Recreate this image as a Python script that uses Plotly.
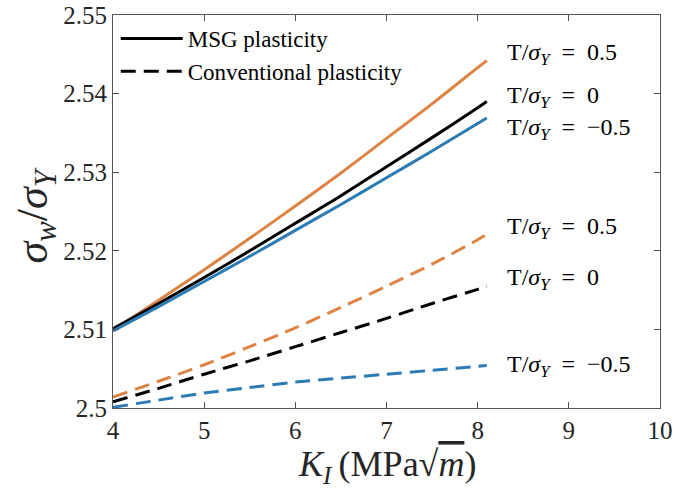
import plotly.graph_objects as go

# Data
K = [4.0, 4.5, 5.0, 5.5, 6.0, 6.5, 7.0, 7.5, 8.0, 8.1]

msg_pos = [2.5099, 2.5137, 2.5176, 2.5216, 2.5257, 2.5299, 2.5343, 2.5387, 2.5433, 2.5442]
msg_zero = [2.5101, 2.5133, 2.5166, 2.5200, 2.5235, 2.5270, 2.5307, 2.5344, 2.5382, 2.5390]
msg_neg = [2.5098, 2.5129, 2.5161, 2.5193, 2.5226, 2.5259, 2.5293, 2.5327, 2.5362, 2.5369]

conv_pos = [2.5014, 2.5034, 2.5055, 2.5078, 2.5102, 2.5128, 2.5155, 2.5183, 2.5214, 2.5221]
conv_zero = [2.5008, 2.5025, 2.5043, 2.5060, 2.5078, 2.5096, 2.5114, 2.5133, 2.5151, 2.5155]
conv_neg = [2.5001, 2.5010, 2.5019, 2.5026, 2.5033, 2.5038, 2.5043, 2.5048, 2.5053, 2.5054]

ratio_labels = ["0.5", "0", "\u22120.5", "0.5", "0", "\u22120.5"]

x_ticks = [4, 5, 6, 7, 8, 9, 10]
y_ticks = [2.5, 2.51, 2.52, 2.53, 2.54, 2.55]
y_ticklabels = ["2.5", "2.51", "2.52", "2.53", "2.54", "2.55"]

ORANGE = "#DD8445"
BLUE = "#2B7BB5"
BLACK = "#000000"
FONT = "Liberation Serif"
DASH = "15px,8px"

fig = go.Figure()

series = [
    (msg_pos, ORANGE, "solid"),
    (msg_zero, BLACK, "solid"),
    (msg_neg, BLUE, "solid"),
    (conv_pos, ORANGE, DASH),
    (conv_zero, BLACK, DASH),
    (conv_neg, BLUE, DASH),
]
for ys, col, dash in series:
    fig.add_trace(go.Scatter(x=K, y=ys, mode="lines", showlegend=False,
                             line=dict(color=col, width=3, dash=dash,
                                       shape="spline", smoothing=0.8)))

# legend entries
fig.add_trace(go.Scatter(x=[None], y=[None], mode="lines", name="MSG plasticity",
                         line=dict(color=BLACK, width=3)))
fig.add_trace(go.Scatter(x=[None], y=[None], mode="lines", name="Conventional plasticity",
                         line=dict(color=BLACK, width=3, dash=DASH)))

# end labels (pixel nudges so labels don't collide)
label_yshift = [7, 4, -11, 6, 7, 0]
for (ys, col, dash), lab, ysh in zip(series, ratio_labels, label_yshift):
    fig.add_annotation(x=K[-1], y=ys[-1], xref="x", yref="y",
                       text="T/<i>\u03c3</i><sub><i>Y</i></sub>\u2002=\u2002" + lab,
                       showarrow=False, xanchor="left", yanchor="middle",
                       xshift=18, yshift=ysh,
                       font=dict(family=FONT, size=24, color="#000000"))

axis_common = dict(
    showgrid=False, zeroline=False, showline=True, mirror="ticks",
    linecolor="#555555", linewidth=1.2, ticks="inside", ticklen=6,
    tickcolor="#555555", tickwidth=1, automargin=False,
    ticklabeloverflow="allow",
    tickfont=dict(family=FONT, size=25, color="#262626"),
)

fig.update_xaxes(range=[4, 10], tickvals=x_ticks, **axis_common)
fig.update_yaxes(range=[2.5, 2.55], tickvals=y_ticks, ticktext=y_ticklabels, **axis_common)

# axis titles
fig.add_annotation(
    x=0.5, y=0, xref="paper", yref="paper", yanchor="top", yshift=-34,
    text="<i>K</i><sub><i>I</i></sub>\u2009(MPa\u221a<span style='text-decoration:overline'><i>m</i></span>)",
    showarrow=False, font=dict(family=FONT, size=36, color="#262626"))
fig.add_annotation(
    x=0, y=0.49, xref="paper", yref="paper", xanchor="center", xshift=-78,
    text="<i>\u03c3</i><sub><i>w</i></sub>/<i>\u03c3</i><sub><i>Y</i></sub>",
    textangle=-90, showarrow=False, font=dict(family=FONT, size=44, color="#262626"))

fig.update_layout(
    width=699, height=492,
    paper_bgcolor="white", plot_bgcolor="white",
    margin=dict(l=113, r=39, t=15, b=84, autoexpand=False),
    legend=dict(x=0.005, y=0.995, xanchor="left", yanchor="top",
                bgcolor="rgba(0,0,0,0)", borderwidth=0,
                font=dict(family=FONT, size=23, color="#000000"),
                itemwidth=62, tracegroupgap=0),
)

# remove the default 8px page margin so the figure sits at the window's corner
fig.write_html("out.html", config={"displayModeBar": False},
               post_script="document.body.style.margin='0';document.body.style.overflow='hidden';")
